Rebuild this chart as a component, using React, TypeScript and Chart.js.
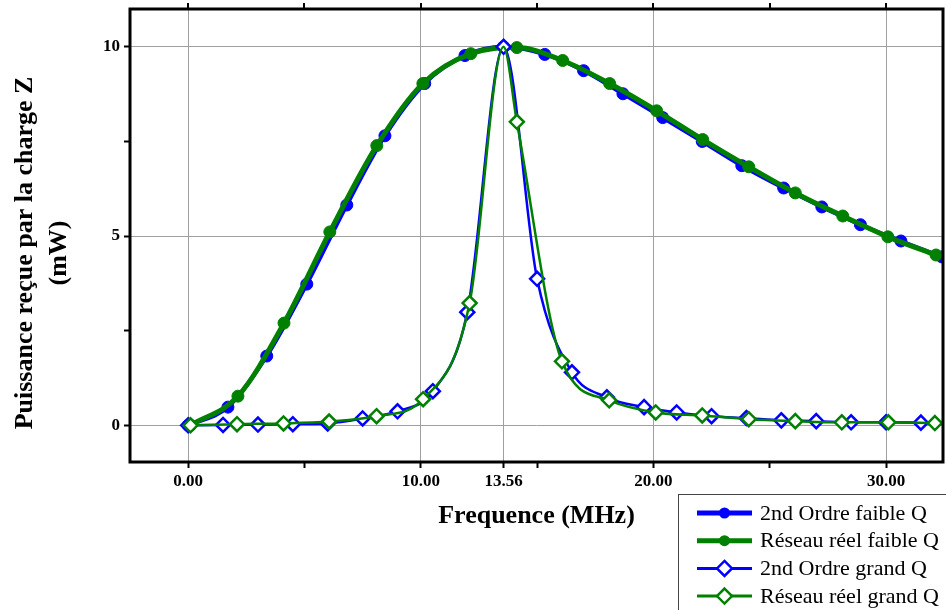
import React, { useEffect, useRef } from "react";
import { Chart, registerables } from "chart.js";

Chart.register(...registerables);

// ---- data ----
const FREQ_ORDRE2_FAIBLE = [0, 1.71, 3.38, 5.1, 6.82, 8.46, 10.17, 11.9, 13.56, 15.33, 17.0, 18.69, 20.4, 22.1, 23.8, 25.6, 27.24, 28.9, 30.64, 32.4];
const P_ORDRE2_FAIBLE = [0, 0.48, 1.83, 3.73, 5.82, 7.65, 9.03, 9.77, 10.0, 9.8, 9.37, 8.76, 8.13, 7.5, 6.86, 6.27, 5.77, 5.3, 4.87, 4.45];

const FREQ_RESEAU_FAIBLE = [0.1, 2.14, 4.12, 6.09, 8.11, 10.09, 12.15, 14.13, 16.1, 18.12, 20.14, 22.12, 24.1, 26.1, 28.14, 30.08, 32.15];
const P_RESEAU_FAIBLE = [0, 0.77, 2.7, 5.11, 7.39, 9.03, 9.82, 9.98, 9.64, 9.03, 8.31, 7.55, 6.83, 6.14, 5.53, 4.98, 4.5];

const FREQ_ORDRE2_GRAND = [0, 1.5, 3.0, 4.5, 6.0, 7.5, 9.0, 10.52, 12.0, 13.56, 15.0, 16.5, 18.0, 19.6, 21.0, 22.5, 24.0, 25.5, 27.0, 28.5, 30.0, 31.5];
const P_ORDRE2_GRAND = [0, 0.01, 0.02, 0.03, 0.05, 0.18, 0.37, 0.9, 2.99, 10.0, 3.87, 1.4, 0.74, 0.48, 0.34, 0.24, 0.19, 0.13, 0.11, 0.08, 0.08, 0.07];

const FREQ_RESEAU_GRAND = [0.1, 2.1, 4.1, 6.06, 8.1, 10.1, 12.1, 13.56, 14.13, 16.07, 18.1, 20.1, 22.1, 24.1, 26.1, 28.1, 30.1, 32.1];
const P_RESEAU_GRAND = [0, 0.03, 0.05, 0.1, 0.24, 0.69, 3.23, 10.0, 8.02, 1.69, 0.66, 0.34, 0.26, 0.16, 0.11, 0.08, 0.08, 0.06];
// the resonance peak of the "Réseau réel grand Q" curve carries no marker
const UNMARKED_PEAK_FREQ = 13.56;

const X_TICKS = [0, 5, 10, 13.56, 15, 20, 25, 30];
const X_LABELED = [0, 10, 13.56, 20, 30];
const X_TOP_TICKS = [0, 5, 10, 15, 20, 25, 30];
const Y_TICKS = [0, 2.5, 5, 7.5, 10];
const Y_LABELED = [0, 5, 10];

const X_TITLE = "Frequence (MHz)";
const Y_TITLE = ["Puissance reçue par la charge Z", "(mW)"];
const LABELS = ["2nd Ordre faible Q", "Réseau réel faible Q", "2nd Ordre grand Q", "Réseau réel grand Q"];

const BLUE = "#0000ff";
const GREEN = "#008000";
const SERIF = '"Liberation Serif", "Times New Roman", serif';

const toPoints = (xs: number[], ys: number[]) => xs.map((x, i) => ({ x, y: ys[i] }));

const zeroPadding = (s: any) => {
  s.paddingTop = 0;
  s.paddingBottom = 0;
  s.paddingLeft = 0;
  s.paddingRight = 0;
};

const decorPlugin = {
  id: "decor",
  afterDatasetsDraw(chart: any) {
    const { ctx, chartArea: a, scales } = chart;
    const x = scales.x;
    ctx.save();
    ctx.strokeStyle = "#000";
    ctx.lineWidth = 3;
    ctx.strokeRect(a.left, a.top, a.right - a.left, a.bottom - a.top);
    ctx.lineWidth = 2;
    for (const v of X_TOP_TICKS) {
      const px = Math.round(x.getPixelForValue(v));
      ctx.beginPath();
      ctx.moveTo(px, a.top);
      ctx.lineTo(px, a.top - 6);
      ctx.stroke();
    }
    ctx.restore();
  },
  afterDraw(chart: any) {
    const { ctx, chartArea: a } = chart;
    ctx.save();
    ctx.fillStyle = "#000";
    // x title
    ctx.font = `bold 26px ${SERIF}`;
    ctx.textAlign = "center";
    ctx.textBaseline = "alphabetic";
    ctx.fillText(X_TITLE, (a.left + a.right) / 2, a.bottom + 61);
    // y title
    ctx.save();
    ctx.translate(32, 253);
    ctx.rotate(-Math.PI / 2);
    ctx.fillText(Y_TITLE[0], 0, 0);
    ctx.fillText(Y_TITLE[1], 0, 34);
    ctx.restore();

    // legend
    const bx = 678.5, by = 494.5;
    ctx.fillStyle = "#fff";
    ctx.fillRect(bx, by, 400, 200);
    ctx.strokeStyle = "#444";
    ctx.lineWidth = 1;
    ctx.strokeRect(bx, by, 400, 200);
    const ds = chart.data.datasets;
    ds.forEach((d: any, i: number) => {
      const y = 513 + 27.7 * i;
      const x1 = 697, x2 = 752, xm = 724.5;
      ctx.strokeStyle = d.borderColor;
      ctx.lineWidth = i < 2 ? 5 : 3;
      ctx.beginPath();
      ctx.moveTo(x1, y);
      ctx.lineTo(x2, y);
      ctx.stroke();
      if (d.pointStyle === "circle") {
        ctx.fillStyle = d.borderColor;
        ctx.beginPath();
        ctx.arc(xm, y, 5.5, 0, Math.PI * 2);
        ctx.fill();
      } else {
        const r = 7.5;
        ctx.fillStyle = "#fff";
        ctx.lineWidth = 2.5;
        ctx.beginPath();
        ctx.moveTo(xm, y - r);
        ctx.lineTo(xm + r, y);
        ctx.lineTo(xm, y + r);
        ctx.lineTo(xm - r, y);
        ctx.closePath();
        ctx.fill();
        ctx.stroke();
      }
      ctx.fillStyle = "#000";
      ctx.font = `22px ${SERIF}`;
      ctx.textAlign = "left";
      ctx.textBaseline = "middle";
      ctx.fillText(d.label, 760, y + 1);
    });
    ctx.restore();
  },
};

export default function App() {
  const ref = useRef<HTMLCanvasElement | null>(null);

  useEffect(() => {
    if (!ref.current) return;
    const chart = new Chart(ref.current, {
      type: "line",
      data: {
        datasets: [
          {
            label: LABELS[0],
            data: toPoints(FREQ_ORDRE2_FAIBLE, P_ORDRE2_FAIBLE),
            borderColor: BLUE,
            backgroundColor: BLUE,
            borderWidth: 4,
            pointStyle: "circle",
            pointRadius: 6,
            pointBorderWidth: 1,
            pointBackgroundColor: BLUE,
            pointBorderColor: BLUE,
            cubicInterpolationMode: "monotone",
            order: 4,
            clip: 0,
          },
          {
            label: LABELS[1],
            data: toPoints(FREQ_RESEAU_FAIBLE, P_RESEAU_FAIBLE),
            borderColor: GREEN,
            backgroundColor: GREEN,
            borderWidth: 5,
            pointStyle: "circle",
            pointRadius: 6,
            pointBorderWidth: 1,
            pointBackgroundColor: GREEN,
            pointBorderColor: GREEN,
            cubicInterpolationMode: "monotone",
            order: 3,
            clip: 0,
          },
          {
            label: LABELS[2],
            data: toPoints(FREQ_ORDRE2_GRAND, P_ORDRE2_GRAND),
            borderColor: BLUE,
            backgroundColor: "#fff",
            borderWidth: 2.5,
            pointStyle: "rectRot",
            pointRadius: 7,
            pointBorderWidth: 2.5,
            pointBackgroundColor: "#fff",
            pointBorderColor: BLUE,
            cubicInterpolationMode: "monotone",
            order: 2,
            clip: 0,
          },
          {
            label: LABELS[3],
            data: toPoints(FREQ_RESEAU_GRAND, P_RESEAU_GRAND),
            borderColor: GREEN,
            backgroundColor: "#fff",
            borderWidth: 2.5,
            pointStyle: "rectRot",
            pointRadius: (c: any) => (c.raw && c.raw.x === UNMARKED_PEAK_FREQ ? 0 : 7),
            pointBorderWidth: 2.5,
            pointBackgroundColor: "#fff",
            pointBorderColor: GREEN,
            cubicInterpolationMode: "monotone",
            order: 1,
            clip: 0,
          },
        ] as any,
      },
      options: {
        animation: false,
        responsive: false,
        maintainAspectRatio: false,
        devicePixelRatio: 1,
        layout: { autoPadding: false, padding: { top: 9, right: 3, left: 0, bottom: 0 } },
        plugins: { legend: { display: false }, tooltip: { enabled: false } },
        events: [],
        scales: {
          x: {
            type: "linear",
            min: -2.5,
            max: 32.45,
            afterBuildTicks: (s: any) => {
              s.ticks = X_TICKS.map((v) => ({ value: v }));
            },
            afterFit: (s: any) => {
              s.height = 148;
              zeroPadding(s);
            },
            border: { display: false },
            grid: {
              color: (c: any) => (c.tick && X_LABELED.includes(c.tick.value) ? "#a0a0a0" : "rgba(0,0,0,0)"),
              lineWidth: 1,
              drawTicks: true,
              tickLength: 6,
              tickColor: "#000",
              tickWidth: 2,
            },
            ticks: {
              autoSkip: false,
              maxRotation: 0,
              padding: 3,
              color: "#000",
              font: { family: SERIF, size: 17, weight: "bold" },
              callback: (v: any) => (X_LABELED.includes(Number(v)) ? Number(v).toFixed(2) : ""),
            },
          },
          y: {
            type: "linear",
            min: -0.97,
            max: 11.0,
            afterBuildTicks: (s: any) => {
              s.ticks = Y_TICKS.map((v) => ({ value: v }));
            },
            afterFit: (s: any) => {
              s.width = 130;
              zeroPadding(s);
            },
            border: { display: false },
            grid: {
              color: (c: any) => (c.tick && Y_LABELED.includes(c.tick.value) ? "#a0a0a0" : "rgba(0,0,0,0)"),
              lineWidth: 1,
              drawTicks: true,
              tickLength: 6,
              tickColor: "#000",
              tickWidth: 2,
            },
            ticks: {
              autoSkip: false,
              padding: 4,
              color: "#000",
              font: { family: SERIF, size: 17, weight: "bold" },
              callback: (v: any) => (Y_LABELED.includes(Number(v)) ? String(v) : ""),
            },
          },
        },
      } as any,
      plugins: [decorPlugin],
    });
    return () => chart.destroy();
  }, []);

  return (
    <div style={{ position: "fixed", left: 0, top: 0, width: 946, height: 610, background: "#fff" }}>
      <canvas ref={ref} width={946} height={610} style={{ display: "block", width: 946, height: 610 }} />
    </div>
  );
}
